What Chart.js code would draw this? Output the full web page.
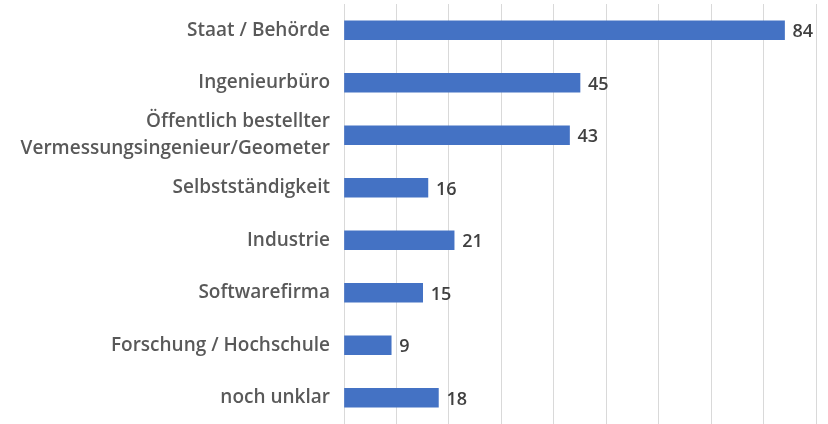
<!DOCTYPE html>
<html>
<head>
<meta charset="utf-8">
<script src="https://cdn.jsdelivr.net/npm/chart.js@4"></script>
<style>
  html, body { margin: 0; padding: 0; background: #fff; }
  #wrap { width: 828px; height: 424px; }
</style>
</head>
<body>
<div id="wrap"><canvas id="chart"></canvas></div>
<script>
const categories = [
    'Staat / Behörde',
    'Ingenieurbüro',
    ['Öffentlich bestellter', 'Vermessungsingenieur/Geometer'],
    'Selbstständigkeit',
    'Industrie',
    'Softwarefirma',
    'Forschung / Hochschule',
    'noch unklar'
];
const counts = [84, 45, 43, 16, 21, 15, 9, 18];
const axisMax = 90;
const axisStep = 10;

// value labels next to bar ends
const valueLabels = {
    id: 'valueLabels',
    afterDatasetsDraw(chart) {
        const ctx = chart.ctx;
        const meta = chart.getDatasetMeta(0);
        ctx.save();
        ctx.font = '600 18px "Open Sans"';
        ctx.fillStyle = '#404040';
        ctx.textBaseline = 'middle';
        ctx.textAlign = 'left';
        meta.data.forEach((bar, i) => {
            ctx.fillText(counts[i], bar.x + 8, bar.y + 2);
        });
        ctx.restore();
    }
};

new Chart(document.getElementById('chart'), {
    type: 'bar',
    data: {
        labels: categories,
        datasets: [{
            data: counts,
            backgroundColor: '#4472C4',
            barThickness: 19
        }]
    },
    options: {
        indexAxis: 'y',
        responsive: true,
        maintainAspectRatio: false,
        animation: false,
        layout: { padding: { top: 4, right: 12, bottom: 0, left: 0 } },
        plugins: {
            legend: { display: false },
            tooltip: { enabled: false }
        },
        scales: {
            x: {
                min: 0,
                max: axisMax,
                ticks: { display: false, stepSize: axisStep },
                grid: { color: '#d9d9d9', lineWidth: 1, drawTicks: false },
                border: { display: false }
            },
            y: {
                grid: { display: false },
                border: { display: false },
                ticks: {
                    autoSkip: false,
                    color: '#595959',
                    padding: 6,
                    font: { family: 'Open Sans', size: 19, weight: '600', lineHeight: 1.4 }
                },
                afterFit(scale) {
                    scale.width = 344;
                    scale.paddingTop = 0;
                    scale.paddingBottom = 0;
                }
            }
        }
    },
    plugins: [valueLabels]
});
</script>
</body>
</html>
